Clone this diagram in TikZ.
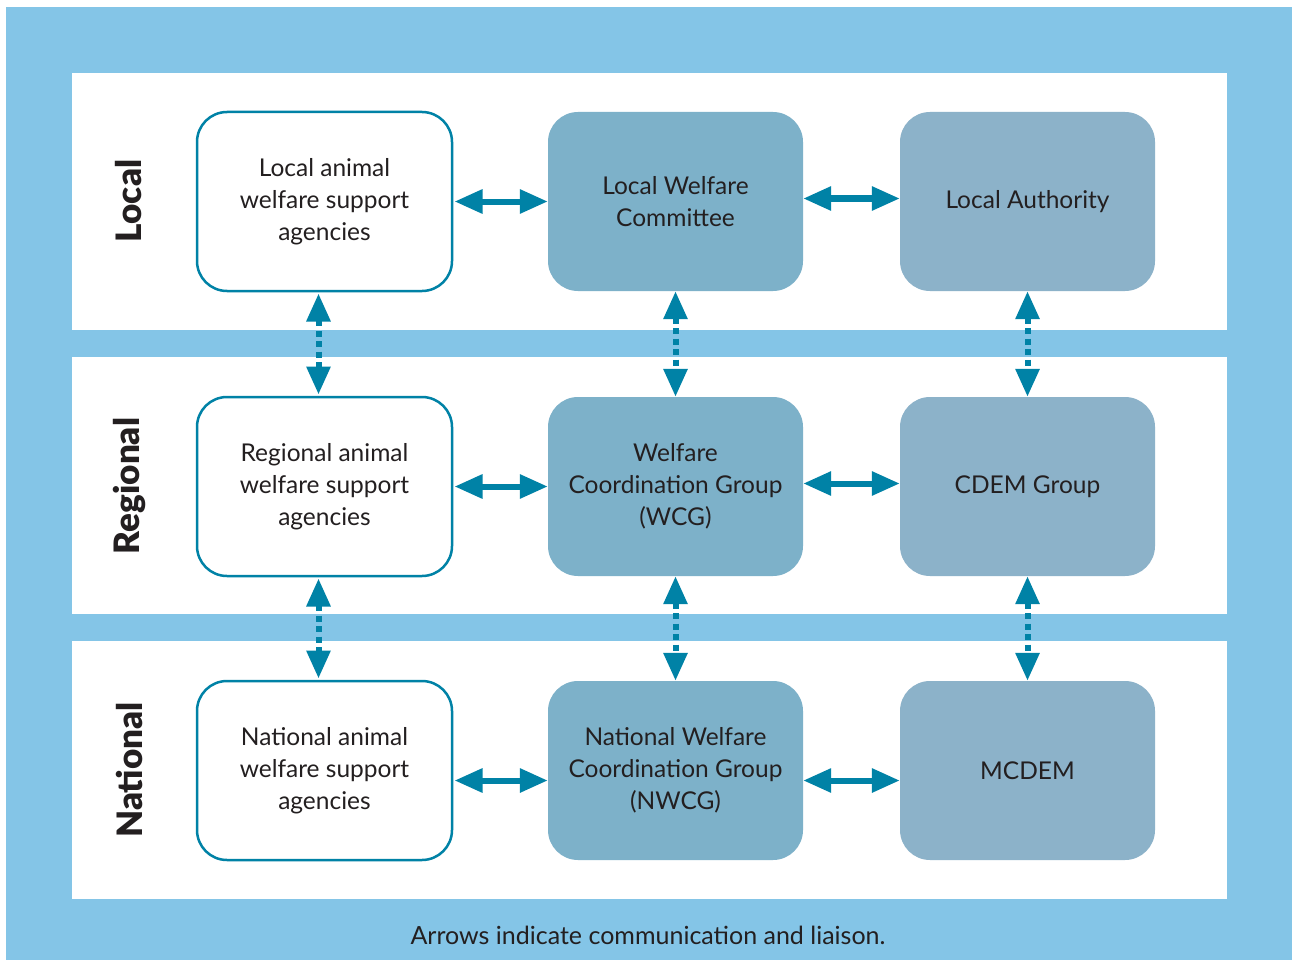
\documentclass[tikz,border=0pt]{standalone}
\usepackage{fontspec}
\setmainfont{Lato}[BoldFont = Lato Black]
\usetikzlibrary{arrows.meta}

\definecolor{skyblue}{HTML}{84C5E7}
\definecolor{teal}{HTML}{0082A6}
\definecolor{midfill}{HTML}{7DB1C9}
\definecolor{rightfill}{HTML}{8CB2C9}
\definecolor{ink}{HTML}{231F20}

\begin{document}
\begin{tikzpicture}[x = 1pt, y = -1pt,
  box/.style = {rectangle, rounded corners = 30pt, minimum width = 255pt,
    minimum height = 179pt, align = center, text = ink,
    font = \fontsize{24.5}{32}\selectfont},
  agency/.style = {box, draw = teal, line width = 2.5pt, fill = white},
  welfare/.style = {box, fill = midfill},
  cdem/.style = {box, fill = rightfill},
  level/.style = {rotate = 90, font = \fontsize{35}{38}\selectfont\bfseries, text = ink},
  link/.style = {teal, line width = 6pt, {Triangle[width = 23pt, length = 28pt]}-{Triangle[width = 23pt, length = 28pt]}},
  liaison/.style = {link, dash pattern = on 6pt off 4.5pt}]
\useasboundingbox (0, 0) rectangle (1292, 960);
\fill[white] (0, 0) rectangle (1292, 960);
\fill[skyblue] (6, 7) rectangle (1292, 960);

\fill[white] (72, 73) rectangle (1227, 330);
\fill[white] (72, 357) rectangle (1227, 614);
\fill[white] (72, 641) rectangle (1227, 899);

\node[level] (local) at (129, 201) {Local};
\node[level] (regional) at (129, 486) {Regional};
\node[level] (national) at (129, 770) {National};

\node[agency] (la) at (324.5, 201.5) {Local animal\\welfare support\\agencies};
\node[welfare] (lw) at (675.5, 201.5) {Local Welfare\\Committee};
\node[cdem] (lc) at (1027.5, 201.5) {Local Authority};

\node[agency] (ra) at (324.5, 486.5) {Regional animal\\welfare support\\agencies};
\node[welfare] (rw) at (675.5, 486.5) {Welfare\\Coordination Group\\(WCG)};
\node[cdem] (rc) at (1027.5, 486.5) {CDEM Group};

\node[agency] (na) at (324.5, 770.5) {National animal\\welfare support\\agencies};
\node[welfare] (nw) at (675.5, 770.5) {National Welfare\\Coordination Group\\(NWCG)};
\node[cdem] (nc) at (1027.5, 770.5) {MCDEM};

\draw[link] ([xshift = 1.25pt]la.east) -- (lw.west);
\draw[link] ([yshift = 3pt]lw.east) -- ([yshift = 3pt]lc.west);
\draw[link] ([xshift = 1.25pt]ra.east) -- (rw.west);
\draw[link] ([yshift = 3pt]rw.east) -- ([yshift = 3pt]rc.west);
\draw[link] ([xshift = 1.25pt, yshift = -10pt]na.east) -- ([yshift = -10pt]nw.west);
\draw[link] ([yshift = -10pt]nw.east) -- ([yshift = -10pt]nc.west);

\draw[liaison] ([xshift = -6pt, yshift = -1.25pt]la.south) -- ([xshift = -6pt, yshift = 1.25pt]ra.north);
\draw[liaison] (lw.south) -- (rw.north);
\draw[liaison] (lc.south) -- (rc.north);
\draw[liaison] ([xshift = -6pt, yshift = -1.25pt]ra.south) -- ([xshift = -6pt, yshift = 1.25pt]na.north);
\draw[liaison] (rw.south) -- (nw.north);
\draw[liaison] (rc.south) -- (nc.north);

\node[text = ink, font = \fontsize{25}{30}\selectfont] (note) at (648, 935) {Arrows indicate communication and liaison.};
\end{tikzpicture}
\end{document}
